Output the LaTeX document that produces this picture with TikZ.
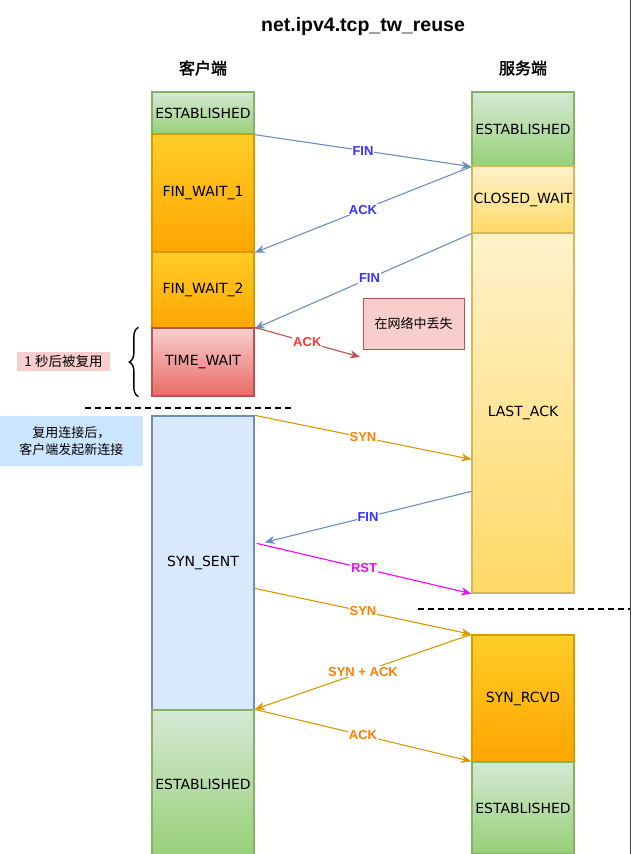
\documentclass[tikz,border=0pt]{standalone}
\usepackage{fontspec}
\setmainfont{Liberation Sans}
\newfontfamily\statefont{DejaVu Sans}
\newfontfamily\cjk[AutoFakeBold=2]{Noto Sans CJK SC}
\usetikzlibrary{arrows.meta,decorations.pathreplacing}

\definecolor{esttop}{HTML}{D5E8D4}
\definecolor{estbot}{HTML}{97D077}
\definecolor{estline}{HTML}{82B366}
\definecolor{fwtop}{HTML}{FFCD28}
\definecolor{fwbot}{HTML}{FFA500}
\definecolor{fwline}{HTML}{D79B00}
\definecolor{twtop}{HTML}{F8CECC}
\definecolor{twbot}{HTML}{EA6B66}
\definecolor{twline}{HTML}{B85450}
\definecolor{latop}{HTML}{FFF2CC}
\definecolor{labot}{HTML}{FFD966}
\definecolor{laline}{HTML}{D6B656}
\definecolor{ssfill}{HTML}{DAE8FC}
\definecolor{ssline}{HTML}{6C8EBF}
\definecolor{notefill}{HTML}{CCE5FF}
\definecolor{bluetext}{HTML}{3333FF}
\definecolor{orangetext}{HTML}{FF8000}
\definecolor{redtext}{HTML}{FF3333}
\definecolor{rstline}{HTML}{FF00FF}

\begin{document}
\begin{tikzpicture}[x=1pt, y=-1pt,
    state/.style={draw, line width=1.3pt, minimum width=102pt, inner sep=0pt, font=\statefont\fontsize{14}{16}\selectfont},
    est/.style={state, draw=estline, top color=esttop, bottom color=estbot},
    fw/.style={state, draw=fwline, top color=fwtop, bottom color=fwbot},
    la/.style={state, draw=laline, top color=latop, bottom color=labot},
    msg/.style={line width=1.1pt, -{Stealth[length=10pt,width=8pt,inset=3pt]}},
    lbl/.style={fill=white, inner sep=1pt, font=\bfseries\fontsize{13}{15}\selectfont}]
    \clip (0,0) rectangle (631,854);

    % Draw titles
    \node[font=\bfseries\fontsize{19.5}{22}\selectfont] (title) at (363,26) {net.ipv4.tcp\_tw\_reuse};
    \node[font=\cjk\bfseries\fontsize{16}{18}\selectfont] (client) at (203,68) {客户端};
    \node[font=\cjk\bfseries\fontsize{16}{18}\selectfont] (server) at (523,68) {服务端};

    % Draw client states
    \node[est, minimum height=42] (cest1) at (203,113) {ESTABLISHED};
    \node[fw, minimum height=118] (fw1) at (203,193) {FIN\_WAIT\_1};
    \node[fw, minimum height=76] (fw2) at (203,290) {FIN\_WAIT\_2};
    \node[state, draw=twline, top color=twtop, bottom color=twbot, minimum height=68] (tw) at (203,362) {TIME\_WAIT};
    \node[state, draw=ssline, fill=ssfill, minimum height=294] (ss) at (203,563) {SYN\_SENT};
    \node[est, minimum height=148] (cest2) at (203,784) {ESTABLISHED};

    % Draw server states
    \node[est, minimum height=74] (sest1) at (523,129) {ESTABLISHED};
    \node[la, minimum height=67] (cw) at (523,199.5) {CLOSED\_WAIT};
    \node[la, minimum height=360] (last) at (523,413) {LAST\_ACK};
    \node[fw, minimum height=127] (rcvd) at (523,698.5) {SYN\_RCVD};
    \node[est, minimum height=92] (sest2) at (523,808) {ESTABLISHED};

    % Notes
    \node[draw=twline, fill=twtop, minimum width=101, minimum height=51, font=\cjk\fontsize{13}{15}\selectfont] (lost) at (413.5,323.5) {在网络中丢失};
    \coordinate (lostend) at (360,357);
    \node[fill=twtop, minimum width=93, minimum height=19, inner sep=0pt, font=\cjk\fontsize{13.5}{15}\selectfont] (reuse) at (63.5,361.5) {1 秒后被复用};
    \node[fill=notefill, minimum width=143, minimum height=50, align=center, font=\cjk\fontsize{13}{17}\selectfont] (newconn) at (71.5,441) {复用连接后，\\客户端发起新连接};
    \draw[line width=1.4pt, decorate, decoration={brace, amplitude=9pt}] ([xshift=-13]tw.south west) -- ([xshift=-13]tw.north west);

    % Dashed separators
    \draw[line width=1.3pt, dash pattern=on 6pt off 4pt] (85,408) -- (292,408);
    \draw[line width=1.3pt, dash pattern=on 6pt off 4pt] (418,609) -- (631,609);

    % Draw messages
    \draw[msg, ssline] (cest1.south east) -- node[lbl, text=bluetext] {FIN} (sest1.south west);
    \draw[msg, ssline] (sest1.south west) -- node[lbl, text=bluetext] {ACK} (fw1.south east);
    \draw[msg, ssline] (cw.south west) -- node[lbl, text=bluetext, pos=0.47] {FIN} (fw2.south east);
    \draw[msg, twline] (tw.north east) -- node[lbl, text=redtext] {ACK} (lostend); % lost on the way
    \draw[msg, fwline] (ss.north east) -- node[lbl, text=orangetext] {SYN} ([yshift=-227]last.north west);
    \draw[msg, ssline] ([yshift=-259]last.north west) -- node[lbl, text=bluetext] {FIN} ([xshift=10,yshift=-127]ss.north east);
    \draw[msg, rstline] ([xshift=2,yshift=-128]ss.north east) -- node[lbl, text=rstline] {RST} (last.south west);
    \draw[msg, fwline] ([yshift=-173]ss.north east) -- node[lbl, text=orangetext] {SYN} (rcvd.north west);
    \draw[msg, fwline] (rcvd.north west) -- node[lbl, text=orangetext] {SYN + ACK} (cest2.north east);
    \draw[msg, fwline] (cest2.north east) -- node[lbl, text=orangetext] {ACK} (sest2.north west);

    % Right edge
    \draw[line width=1.5pt, black!75] (630.25,0) -- (630.25,854);
\end{tikzpicture}
\end{document}
